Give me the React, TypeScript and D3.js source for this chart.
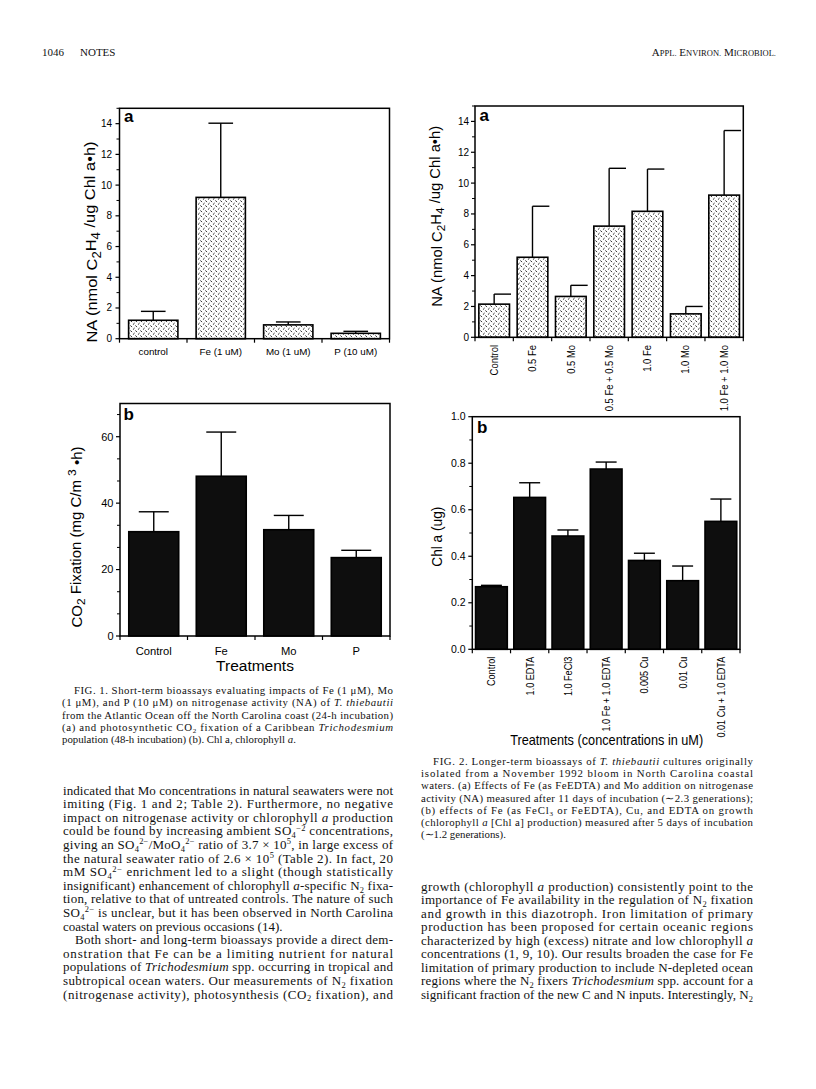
import React from "react";
import * as d3 from "d3";

// ---------------- DATA ----------------
const fig1aCategories = ["control", "Fe (1 uM)", "Mo (1 uM)", "P (10 uM)"];
const fig1aMeans = [1.2, 9.2, 0.9, 0.35];
const fig1aErrTop = [1.78, 14.03, 1.09, 0.48];
const fig1aMajorTicks = [0, 2, 4, 6, 8, 10, 12, 14];
const fig1aMinorTicks = [1, 3, 5, 7, 9, 11, 13, 15];

const fig1bCategories = ["Control", "Fe", "Mo", "P"];
const fig1bMeans = [31.4, 48.1, 32.0, 23.6];
const fig1bErrTop = [37.4, 61.4, 36.3, 25.8];
const fig1bMajorTicks = [0, 20, 40, 60];
const fig1bMinorTicks = [6.67, 13.33, 26.67, 33.33, 46.67, 53.33, 66.67];

const fig2aCategories = ["Control", "0.5 Fe", "0.5 Mo", "0.5 Fe + 0.5 Mo", "1.0 Fe", "1.0 Mo", "1.0 Fe + 1.0 Mo"];
const fig2aMeans = [2.15, 5.19, 2.65, 7.21, 8.17, 1.52, 9.22];
const fig2aErrTop = [2.8, 8.5, 3.37, 10.96, 10.91, 2.0, 13.41];
const fig2aMajorTicks = [0, 2, 4, 6, 8, 10, 12, 14];
const fig2aMinorTicks = [1, 3, 5, 7, 9, 11, 13, 15];

const fig2bCategories = ["Control", "1.0 EDTA", "1.0 FeCl3", "1.0 Fe + 1.0 EDTA", "0.005 Cu", "0.01 Cu", "0.01 Cu + 1.0 EDTA"];
const fig2bMeans = [0.269, 0.653, 0.487, 0.775, 0.382, 0.295, 0.55];
const fig2bErrTop = [0.275, 0.716, 0.513, 0.805, 0.413, 0.358, 0.646];
const fig2bMajorTicks = [0, 0.2, 0.4, 0.6, 0.8, 1.0];
const fig2bMinorTicks = [0.1, 0.3, 0.5, 0.7, 0.9];

const fig1Caption = [
  "\tFIG. 1. Short-term bioassays evaluating impacts of Fe (1 μM), Mo",
  "(1 μM), and P (10 μM) on nitrogenase activity (NA) of *T. thiebautii*",
  "from the Atlantic Ocean off the North Carolina coast (24-h incubation)",
  "(a) and photosynthetic CO_{2} fixation of a Caribbean *Trichodesmium*",
  "~population (48-h incubation) (b). Chl a, chlorophyll *a*.",
];
const fig2Caption = [
  "\tFIG. 2. Longer-term bioassays of *T. thiebautii* cultures originally",
  "isolated from a November 1992 bloom in North Carolina coastal",
  "waters. (a) Effects of Fe (as FeEDTA) and Mo addition on nitrogenase",
  "activity (NA) measured after 11 days of incubation (∼2.3 generations);",
  "(b) effects of Fe (as FeCl_{3} or FeEDTA), Cu, and EDTA on growth",
  "(chlorophyll *a* [Chl a] production) measured after 5 days of incubation",
  "~(∼1.2 generations).",
];
const leftBody = [
  "indicated that Mo concentrations in natural seawaters were not",
  "imiting (Fig. 1 and 2; Table 2). Furthermore, no negative",
  "impact on nitrogenase activity or chlorophyll *a* production",
  "could be found by increasing ambient SO_{4}^{−2} concentrations,",
  "giving an SO_{4}^{2−}/MoO_{4}^{2−} ratio of 3.7 × 10^{5}, in large excess of",
  "the natural seawater ratio of 2.6 × 10^{5} (Table 2). In fact, 20",
  "mM SO_{4}^{2−} enrichment led to a slight (though statistically",
  "insignificant) enhancement of chlorophyll *a*-specific N_{2} fixa-",
  "tion, relative to that of untreated controls. The nature of such",
  "SO_{4}^{2−} is unclear, but it has been observed in North Carolina",
  "~coastal waters on previous occasions (14).",
  "\tBoth short- and long-term bioassays provide a direct dem-",
  "onstration that Fe can be a limiting nutrient for natural",
  "populations of *Trichodesmium* spp. occurring in tropical and",
  "subtropical ocean waters. Our measurements of N_{2} fixation",
  "(nitrogenase activity), photosynthesis (CO_{2} fixation), and",
];
const rightBody = [
  "growth (chlorophyll *a* production) consistently point to the",
  "importance of Fe availability in the regulation of N_{2} fixation",
  "and growth in this diazotroph. Iron limitation of primary",
  "production has been proposed for certain oceanic regions",
  "characterized by high (excess) nitrate and low chlorophyll *a*",
  "concentrations (1, 9, 10). Our results broaden the case for Fe",
  "limitation of primary production to include N-depleted ocean",
  "regions where the N_{2} fixers *Trichodesmium* spp. account for a",
  "significant fraction of the new C and N inputs. Interestingly, N_{2}",
];

// ---------------- STYLE ----------------
const SANS = "'Liberation Sans', Arial, Helvetica, sans-serif";
const SERIF = "'Liberation Serif', 'Times New Roman', Times, serif";

function renderRich(text: string, fs: number) {
  const parts = text.split(/(\*[^*]+\*|_\{[^}]+\}|\^\{[^}]+\})/).filter((p) => p !== "");
  let cur = 0;
  return parts.map((p, i) => {
    let content = p;
    let target = 0;
    let size: number | undefined = undefined;
    let italic = false;
    if (p.startsWith("*")) {
      content = p.slice(1, -1);
      italic = true;
    } else if (p.startsWith("_{")) {
      content = p.slice(2, -1);
      target = 0.22 * fs;
      size = 0.65 * fs;
    } else if (p.startsWith("^{")) {
      content = p.slice(2, -1);
      target = -0.35 * fs;
      size = 0.65 * fs;
    }
    const dy = target - cur;
    cur = target;
    return (
      <tspan key={i} dy={dy !== 0 ? dy : undefined} fontSize={size} fontStyle={italic ? "italic" : undefined}>
        {content}
      </tspan>
    );
  });
}

function TextBlock({ lines, x, width, y0, lh, fs, indent }: any) {
  return (
    <g fontFamily={SERIF} fontSize={fs} fill="#111" style={{ whiteSpace: "pre" }}>
      {lines.map((raw: string, i: number) => {
        let t = raw;
        let ind = 0;
        let justify = true;
        if (t.startsWith("\t")) {
          ind = indent;
          t = t.slice(1);
        }
        if (t.startsWith("~")) {
          justify = false;
          t = t.slice(1);
        }
        return (
          <text
            key={i}
            x={x + ind}
            y={y0 + i * lh}
            textLength={justify ? width - ind : undefined}
            lengthAdjust={justify ? "spacing" : undefined}
          >
            {renderRich(t, fs)}
          </text>
        );
      })}
    </g>
  );
}

function BarChart(props: any) {
  const {
    x0, x1, yTop, yBot, max, categories, means, errTop, major, minor, fmt,
    tickFs, labelEnd, padding, fill, capL, capR, catMode, catY, catFs, catScale,
    letter, letterX, letterY, yLabel, yLabelX, yLabelY, yLabelFs, yLabelLen,
  } = props;
  const x = d3.scaleBand<string>().domain(categories).range([x0, x1]).paddingInner(padding).paddingOuter(padding / 2);
  const y = d3.scaleLinear().domain([0, max]).range([yBot, yTop]);
  const bw = x.bandwidth();
  const step = x.step();
  const bounds = d3.range(categories.length + 1).map((i) => x0 + i * step);
  return (
    <g fontFamily={SANS}>
      {categories.map((c: string, i: number) => {
        const bx = x(c)!;
        const cx = bx + bw / 2;
        return (
          <g key={c}>
            <line x1={cx} x2={cx} y1={y(means[i])} y2={y(errTop[i])} stroke="#000" strokeWidth={1.4} />
            <line x1={cx + capL * bw} x2={cx + capR * bw} y1={y(errTop[i])} y2={y(errTop[i])} stroke="#000" strokeWidth={1.4} />
            <rect x={bx} y={y(means[i])} width={bw} height={yBot - y(means[i])} fill={fill} stroke="#000" strokeWidth={1.6} />
          </g>
        );
      })}
      <rect x={x0} y={yTop} width={x1 - x0} height={yBot - yTop} fill="none" stroke="#000" strokeWidth={1.5} />
      {major.map((v: number) => (
        <g key={"M" + v}>
          <line x1={x0 - 4} x2={x0} y1={y(v)} y2={y(v)} stroke="#000" strokeWidth={1.2} />
          <text x={labelEnd} y={y(v)} dy="0.35em" textAnchor="end" fontSize={tickFs} fill="#000">
            {fmt(v)}
          </text>
        </g>
      ))}
      {minor.map((v: number) => (
        <line key={"m" + v} x1={x0 - 3} x2={x0} y1={y(v)} y2={y(v)} stroke="#000" strokeWidth={1} />
      ))}
      {bounds.map((bx: number, i: number) => (
        <line key={"b" + i} x1={bx} x2={bx} y1={yBot} y2={yBot + 4} stroke="#000" strokeWidth={1.2} />
      ))}
      {categories.map((c: string) => {
        const cx = x(c)! + bw / 2;
        if (catMode === "rot") {
          return (
            <text key={"l" + c} transform={`translate(${cx},${catY}) rotate(-90) scale(${catScale},1)`} textAnchor="end" dy="0.35em" fontSize={catFs} fill="#000">
              {c}
            </text>
          );
        }
        return (
          <text key={"l" + c} x={cx} y={catY} dy="0.35em" textAnchor="middle" fontSize={catFs} fill="#000">
            {c}
          </text>
        );
      })}
      <text x={letterX} y={letterY} fontSize={17} fontWeight="bold" fill="#000">
        {letter}
      </text>
      <text
        transform={`translate(${yLabelX},${yLabelY}) rotate(-90)`}
        textAnchor="middle"
        dy="0.35em"
        fontSize={yLabelFs}
        fill="#000"
        textLength={yLabelLen}
        lengthAdjust="spacingAndGlyphs"
      >
        {yLabel}
      </text>
    </g>
  );
}

export default function App() {
  const f0 = (v: number) => d3.format("d")(v);
  const f1 = (v: number) => d3.format(".1f")(v);
  return (
    <svg width={816} height={1089} style={{ position: "absolute", left: 0, top: 0, background: "#fff" }}>
      <defs>
        <pattern id="hatch" width="5" height="5" patternUnits="userSpaceOnUse">
          <rect width="5" height="5" fill="#fff" />
          <path d="M0.3,0.4 L2,2.1 M2.9,4.7 L4.6,3" stroke="#111" strokeWidth="0.9" fill="none" />
        </pattern>
      </defs>
      <rect width={816} height={1089} fill="#fff" />

      {/* header */}
      <g fontFamily={SERIF} fill="#111">
        <text x={42} y={56} fontSize={11}>1046</text>
        <text x={80} y={56} fontSize={11}>NOTES</text>
        <text x={776} y={56} fontSize={11} textAnchor="end">
          <tspan>A</tspan><tspan fontSize={8.5}>PPL.</tspan>
          <tspan> E</tspan><tspan fontSize={8.5}>NVIRON.</tspan>
          <tspan> M</tspan><tspan fontSize={8.5}>ICROBIOL.</tspan>
        </text>
      </g>

      {/* Fig 1a */}
      <BarChart
        x0={119.5} x1={389.5} yTop={108.3} yBot={338.7} max={15}
        categories={fig1aCategories} means={fig1aMeans} errTop={fig1aErrTop}
        major={fig1aMajorTicks} minor={fig1aMinorTicks} fmt={f0}
        tickFs={10} labelEnd={112} padding={0.27} fill="url(#hatch)" capL={-0.25} capR={0.25}
        catMode="h" catY={351.7} catFs={9.8}
        letter="a" letterX={124} letterY={122}
        yLabel={<>NA (nmol C<tspan dy="0.3em" fontSize="0.8em">2</tspan><tspan dy="-0.3em">H</tspan><tspan dy="0.3em" fontSize="0.8em">4</tspan><tspan dy="-0.3em"> /ug Chl a•h)</tspan></>}
        yLabelX={91.7} yLabelY={242} yLabelFs={15.5} yLabelLen={201}
      />

      {/* Fig 1b */}
      <BarChart
        x0={120} x1={390} yTop={403.5} yBot={636} max={70}
        categories={fig1bCategories} means={fig1bMeans} errTop={fig1bErrTop}
        major={fig1bMajorTicks} minor={fig1bMinorTicks} fmt={f0}
        tickFs={11} labelEnd={113.5} padding={0.26} fill="#0e0e0e" capL={-0.3} capR={0.3}
        catMode="h" catY={650.7} catFs={11.2}
        letter="b" letterX={123.5} letterY={419.5}
        yLabel={<>CO<tspan dy="0.3em" fontSize="0.8em">2</tspan><tspan dy="-0.3em"> Fixation (mg C/m </tspan><tspan dy="-0.4em" fontSize="0.8em">3</tspan><tspan dy="0.4em"> •h)</tspan></>}
        yLabelX={76.7} yLabelY={537} yLabelFs={14.5} yLabelLen={181}
      />
      <text x={255} y={666} dy="0.35em" textAnchor="middle" fontFamily={SANS} fontSize={15.5} fill="#000">
        Treatments
      </text>

      {/* Fig 2a */}
      <BarChart
        x0={475} x1={743.3} yTop={106} yBot={337.3} max={15}
        categories={fig2aCategories} means={fig2aMeans} errTop={fig2aErrTop}
        major={fig2aMajorTicks} minor={fig2aMinorTicks} fmt={f0}
        tickFs={10} labelEnd={469} padding={0.2} fill="url(#hatch)" capL={0} capR={0.55}
        catMode="rot" catY={345} catFs={10.5} catScale={0.9}
        letter="a" letterX={479.5} letterY={120.5}
        yLabel={<>NA (nmol C<tspan dy="0.3em" fontSize="0.8em">2</tspan><tspan dy="-0.3em">H</tspan><tspan dy="0.3em" fontSize="0.8em">4</tspan><tspan dy="-0.3em"> /ug Chl a•h)</tspan></>}
        yLabelX={436.7} yLabelY={216.3} yLabelFs={14} yLabelLen={181}
      />

      {/* Fig 2b */}
      <BarChart
        x0={472.3} x1={740} yTop={416.7} yBot={649.3} max={1}
        categories={fig2bCategories} means={fig2bMeans} errTop={fig2bErrTop}
        major={fig2bMajorTicks} minor={fig2bMinorTicks} fmt={f1}
        tickFs={10.5} labelEnd={465.5} padding={0.17} fill="#0e0e0e" capL={-0.33} capR={0.33}
        catMode="rot" catY={656.7} catFs={11.5} catScale={0.79}
        letter="b" letterX={477} letterY={433}
        yLabel={<>Chl a (ug)</>}
        yLabelX={436.7} yLabelY={536.7} yLabelFs={15} yLabelLen={60}
      />
      <text x={606.7} y={740} dy="0.35em" textAnchor="middle" fontFamily={SANS} fontSize={14.5} fill="#000" textLength={193} lengthAdjust="spacingAndGlyphs">
        Treatments (concentrations in uM)
      </text>

      {/* Captions and body text */}
      <TextBlock lines={fig1Caption} x={62} width={331} y0={694.3} lh={12.15} fs={10.8} indent={12} />
      <TextBlock lines={leftBody} x={63} width={330} y0={794.5} lh={13.6} fs={13} indent={12} />
      <TextBlock lines={fig2Caption} x={421} width={332} y0={764.6} lh={12.3} fs={10.8} indent={12} />
      <TextBlock lines={rightBody} x={421} width={332} y0={890.5} lh={13.55} fs={13} indent={12} />
    </svg>
  );
}
